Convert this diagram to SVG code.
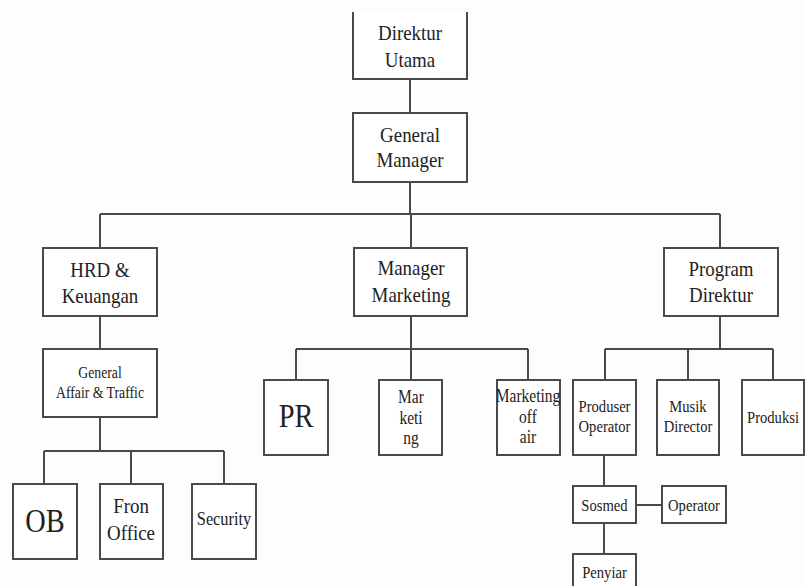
<svg xmlns="http://www.w3.org/2000/svg" width="805" height="586" viewBox="0 0 805 586">
<style>
.box{fill:#ffffff;stroke:#4a4a4a;stroke-width:2}
.ln{fill:none;stroke:#4a4a4a;stroke-width:2}
text{font-family:"Liberation Serif","Times New Roman",serif;fill:#222;text-anchor:middle}
.t22{font-size:22px}.t18{font-size:18px}.t17{font-size:17px}.t16{font-size:16px}.t19{font-size:19px}.t33{font-size:33px}
</style>
<rect width="805" height="586" fill="#fdfdfd"/>
<g id="connectors">
<path class="ln" d="M410,79V113M410,182V214M100,214H720M100,214V248M411,214V248M720,214V248"/>
<path class="ln" d="M100,316V349M100,417V451M44,451H224M44,451V484M131,451V484M224,451V484"/>
<path class="ln" d="M411,316V349M296,349H528M296,349V380M411,349V380M528,349V380"/>
<path class="ln" d="M720,316V349M605,349H773M605,349V380M688,349V380M773,349V380"/>
<path class="ln" d="M604,455V486M636,505H662M604,523V554"/>
</g>
<g id="direktur-utama">
<path class="box" d="M353,12V79H467V12"/>
<text class="t22" transform="matrix(0.86 0 0 1 410 0)" y="40">Direktur</text>
<text class="t22" transform="matrix(0.86 0 0 1 410 0)" y="67">Utama</text>
</g>
<g id="general-manager">
<rect class="box" x="353" y="113" width="114" height="69"/>
<text class="t22" transform="matrix(0.86 0 0 1 410 0)" y="142">General</text>
<text class="t22" transform="matrix(0.86 0 0 1 410 0)" y="167">Manager</text>
</g>
<g id="hrd-keuangan">
<rect class="box" x="43" y="248" width="114" height="68"/>
<text class="t22" transform="matrix(0.86 0 0 1 100 0)" y="277">HRD &amp;</text>
<text class="t22" transform="matrix(0.86 0 0 1 100 0)" y="303">Keuangan</text>
</g>
<g id="manager-marketing">
<rect class="box" x="354" y="248" width="113" height="68"/>
<text class="t22" transform="matrix(0.86 0 0 1 411 0)" y="275">Manager</text>
<text class="t22" transform="matrix(0.86 0 0 1 411 0)" y="302">Marketing</text>
</g>
<g id="program-direktur">
<rect class="box" x="664" y="248" width="114" height="68"/>
<text class="t22" transform="matrix(0.86 0 0 1 721 0)" y="276">Program</text>
<text class="t22" transform="matrix(0.86 0 0 1 721 0)" y="302">Direktur</text>
</g>
<g id="general-affair">
<rect class="box" x="43" y="349" width="114" height="68"/>
<text class="t16" transform="matrix(0.86 0 0 1 100 0)" y="378">General</text>
<text class="t16" transform="matrix(0.86 0 0 1 100 0)" y="398">Affair &amp; Traffic</text>
</g>
<g id="ob">
<rect class="box" x="13" y="484" width="64" height="75"/>
<text class="t33" transform="matrix(0.86 0 0 1 45 0)" y="532">OB</text>
</g>
<g id="fron-office">
<rect class="box" x="100" y="484" width="63" height="75"/>
<text class="t22" transform="matrix(0.86 0 0 1 131 0)" y="513">Fron</text>
<text class="t22" transform="matrix(0.86 0 0 1 131 0)" y="540">Office</text>
</g>
<g id="security">
<rect class="box" x="192" y="484" width="64" height="75"/>
<text class="t19" transform="matrix(0.86 0 0 1 224 0)" y="525">Security</text>
</g>
<g id="pr">
<rect class="box" x="264" y="380" width="64" height="75"/>
<text class="t33" transform="matrix(0.86 0 0 1 296 0)" y="427">PR</text>
</g>
<g id="marketing">
<rect class="box" x="379" y="380" width="63" height="75"/>
<text class="t18" transform="matrix(0.86 0 0 1 411 0)" y="403">Mar</text>
<text class="t18" transform="matrix(0.86 0 0 1 411 0)" y="424">keti</text>
<text class="t18" transform="matrix(0.86 0 0 1 411 0)" y="444">ng</text>
</g>
<g id="marketing-off-air">
<rect class="box" x="497" y="380" width="63" height="75"/>
<text class="t18" transform="matrix(0.86 0 0 1 528 0)" y="402">Marketing</text>
<text class="t18" transform="matrix(0.86 0 0 1 528 0)" y="423">off</text>
<text class="t18" transform="matrix(0.86 0 0 1 528 0)" y="443">air</text>
</g>
<g id="produser-operator">
<rect class="box" x="573" y="380" width="63" height="75"/>
<text class="t17" transform="matrix(0.86 0 0 1 604.5 0)" y="412">Produser</text>
<text class="t17" transform="matrix(0.86 0 0 1 604.5 0)" y="432">Operator</text>
</g>
<g id="musik-director">
<rect class="box" x="657" y="380" width="62" height="75"/>
<text class="t17" transform="matrix(0.86 0 0 1 688 0)" y="412">Musik</text>
<text class="t17" transform="matrix(0.86 0 0 1 688 0)" y="432">Director</text>
</g>
<g id="produksi">
<rect class="box" x="742" y="380" width="62" height="75"/>
<text class="t17" transform="matrix(0.86 0 0 1 773 0)" y="423">Produksi</text>
</g>
<g id="sosmed">
<rect class="box" x="573" y="486" width="63" height="37"/>
<text class="t17" transform="matrix(0.86 0 0 1 604.5 0)" y="511">Sosmed</text>
</g>
<g id="operator">
<rect class="box" x="662" y="486" width="64" height="37"/>
<text class="t17" transform="matrix(0.86 0 0 1 694 0)" y="511">Operator</text>
</g>
<g id="penyiar">
<rect class="box" x="573" y="554" width="63" height="40"/>
<text class="t17" transform="matrix(0.86 0 0 1 604.5 0)" y="578">Penyiar</text>
</g>
</svg>
